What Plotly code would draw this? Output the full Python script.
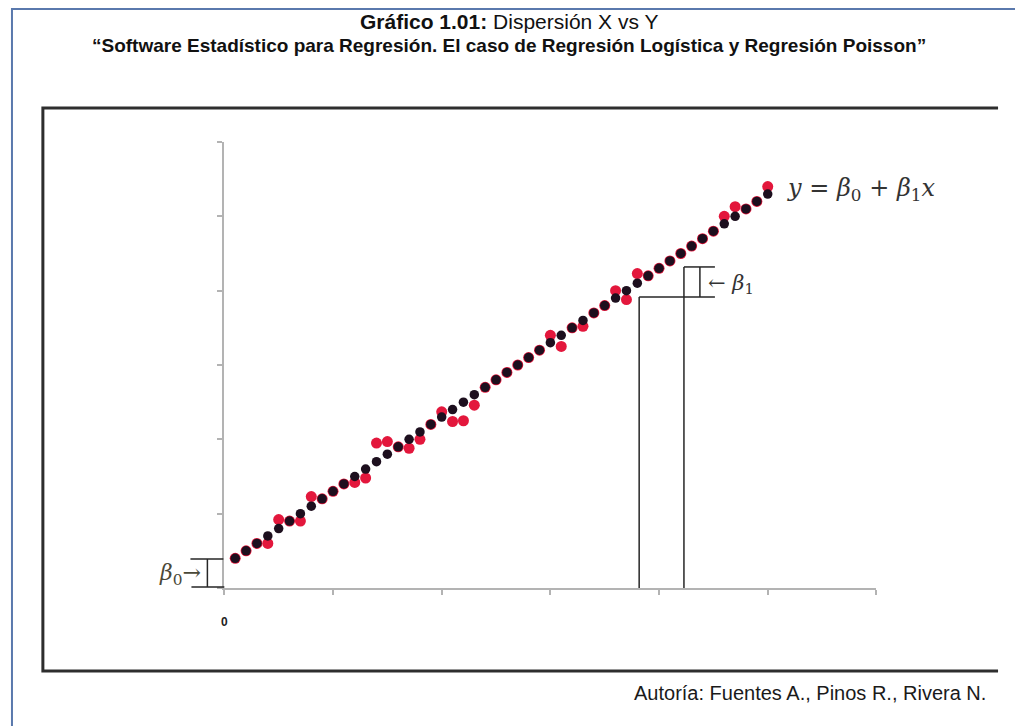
import plotly.graph_objects as go

W, H = 1015, 726

# Sample values: predictor, fitted values on the regression line, observed responses
x_vals = [0.1, 0.2, 0.3, 0.4, 0.5, 0.6, 0.7, 0.8, 0.9, 1.0,
          1.1, 1.2, 1.3, 1.4, 1.5, 1.6, 1.7, 1.8, 1.9, 2.0,
          2.1, 2.2, 2.3, 2.4, 2.5, 2.6, 2.7, 2.8, 2.9, 3.0,
          3.1, 3.2, 3.3, 3.4, 3.5, 3.6, 3.7, 3.8, 3.9, 4.0,
          4.1, 4.2, 4.3, 4.4, 4.5, 4.6, 4.7, 4.8, 4.9, 5.0]
y_fitted = [0.4, 0.5, 0.6, 0.7, 0.8, 0.9, 1.0, 1.1, 1.2, 1.3,
            1.4, 1.5, 1.6, 1.7, 1.8, 1.9, 2.0, 2.1, 2.2, 2.3,
            2.4, 2.5, 2.6, 2.7, 2.8, 2.9, 3.0, 3.1, 3.2, 3.3,
            3.4, 3.5, 3.6, 3.7, 3.8, 3.9, 4.0, 4.1, 4.2, 4.3,
            4.4, 4.5, 4.6, 4.7, 4.8, 4.9, 5.0, 5.1, 5.2, 5.3]
y_observed = [0.40, 0.50, 0.60, 0.60, 0.92, 0.90, 0.90, 1.23, 1.20, 1.30,
              1.40, 1.42, 1.48, 1.95, 1.97, 1.90, 1.88, 2.00, 2.20, 2.37,
              2.24, 2.25, 2.46, 2.70, 2.80, 2.90, 3.00, 3.10, 3.20, 3.40,
              3.25, 3.50, 3.52, 3.70, 3.80, 4.00, 3.88, 4.23, 4.20, 4.30,
              4.40, 4.50, 4.60, 4.70, 4.80, 5.00, 5.13, 5.10, 5.20, 5.40]

x_ticks = [0, 1, 2, 3, 4, 5, 6]
x_ticktext = ["0", "", "", "", "", "", ""]
y_ticks = [0, 1, 2, 3, 4, 5, 6]

# Plot-area placement (pixels)
AX_LEFT, AX_RIGHT = 222, 876
AX_TOP, AX_BOTTOM = 142, 588


def px(xp):
    return xp / W


def py(yp):
    return 1 - yp / H


fig = go.Figure()

fig.add_trace(go.Scatter(
    x=x_vals, y=y_observed, mode="markers",
    marker=dict(size=11, color="#e3173c", line=dict(width=0)),
    hoverinfo="skip", showlegend=False,
))
fig.add_trace(go.Scatter(
    x=x_vals, y=y_fitted, mode="markers",
    marker=dict(size=9.5, color="#1d0f1e", line=dict(width=0)),
    hoverinfo="skip", showlegend=False,
))

shapes = []
# Page frame (blue)
shapes.append(dict(type="path", xref="paper", yref="paper",
                   path=f"M {px(9)},{py(H)} L {px(9)},{py(9)} L {px(W)},{py(9)}",
                   line=dict(color="#5a79ad", width=2)))
# Picture frame (dark, open on the right)
shapes.append(dict(type="path", xref="paper", yref="paper",
                   path=(f"M {px(998)},{py(108)} L {px(40)},{py(108)} "
                         f"L {px(40)},{py(671)} L {px(998)},{py(671)}"),
                   line=dict(color="#2e2e2e", width=3)))

# beta_0 bracket at the intercept
dark = "#262626"
for seg in [((188, 559), (221, 559)), ((189, 587), (222, 587)), ((205, 559), (205, 587))]:
    (xa, ya), (xb, yb) = seg
    shapes.append(dict(type="line", xref="paper", yref="paper",
                       x0=px(xa), y0=py(ya), x1=px(xb), y1=py(yb),
                       line=dict(color=dark, width=1.5)))

# beta_1 step construction (data coordinates)
b1_x0, b1_x1, b1_xr, b1_xb = 3.817, 4.229, 4.514, 4.376
b1_y0, b1_y1 = 3.915, 4.319
for (xa, ya, xb, yb) in [(b1_x0, 0, b1_x0, b1_y0),
                         (b1_x1, 0, b1_x1, b1_y1),
                         (b1_x0, b1_y0, b1_xr, b1_y0),
                         (b1_x1, b1_y1, b1_xr, b1_y1),
                         (b1_xb, b1_y0, b1_xb, b1_y1)]:
    shapes.append(dict(type="line", xref="x", yref="y",
                       x0=xa, y0=ya, x1=xb, y1=yb,
                       line=dict(color=dark, width=1.5)))

annotations = [
    dict(xref="paper", yref="paper", x=0.5, y=py(22), xanchor="center", yanchor="middle",
         text="<b>Gráfico 1.01:</b> Dispersión X vs Y", showarrow=False,
         font=dict(family="Liberation Sans, Arial", size=21, color="#111111")),
    dict(xref="paper", yref="paper", x=0.5, y=py(46), xanchor="center", yanchor="middle",
         text="<b>“Software Estadístico para Regresión. El caso de Regresión Logística y Regresión Poisson”</b>",
         showarrow=False,
         font=dict(family="Liberation Sans, Arial", size=19, color="#111111")),
    dict(xref="paper", yref="paper", x=px(988), y=py(693), xanchor="right", yanchor="middle",
         text="Autoría: Fuentes A., Pinos R., Rivera N.", showarrow=False,
         font=dict(family="Liberation Sans, Arial", size=20, color="#1a1a1a")),
    dict(xref="paper", yref="paper", x=px(784), y=py(190), xanchor="left", yanchor="middle",
         text="<i>y</i> = <i>β</i><sub>0</sub> + <i>β</i><sub>1</sub><i>x</i>", showarrow=False,
         font=dict(family="DejaVu Serif", size=24, color="#333333")),
    dict(xref="paper", yref="paper", x=px(201), y=py(574), xanchor="right", yanchor="middle",
         text="<i>β</i><sub>0</sub>→", showarrow=False,
         font=dict(family="DejaVu Serif", size=22, color="#4a4838")),
    dict(xref="paper", yref="paper", x=px(705), y=py(284), xanchor="left", yanchor="middle",
         text="← <i>β</i><sub>1</sub>", showarrow=False,
         font=dict(family="DejaVu Serif", size=21, color="#333333")),
]

axis_gray = "#b3b3b3"
fig.update_layout(
    width=W, height=H,
    margin=dict(l=0, r=0, t=0, b=0),
    paper_bgcolor="white", plot_bgcolor="rgba(0,0,0,0)",
    shapes=shapes, annotations=annotations,
    xaxis=dict(domain=[px(AX_LEFT), px(AX_RIGHT)], range=[0, 6],
               showgrid=False, zeroline=False, showline=True,
               linecolor=axis_gray, linewidth=2,
               ticks="outside", ticklen=5, tickwidth=1.5, tickcolor=axis_gray,
               tickvals=x_ticks, ticktext=x_ticktext, ticklabelstandoff=17,
               tickfont=dict(family="Liberation Sans, Arial", size=12, color="#222222",
                             weight="bold"),
               fixedrange=True),
    yaxis=dict(domain=[py(AX_BOTTOM), py(AX_TOP)], range=[0, 6],
               showgrid=False, zeroline=False, showline=True,
               linecolor=axis_gray, linewidth=2,
               ticks="outside", ticklen=5, tickwidth=1.5, tickcolor=axis_gray,
               tickvals=y_ticks, showticklabels=False,
               fixedrange=True),
)

fig.write_html("out.html")
